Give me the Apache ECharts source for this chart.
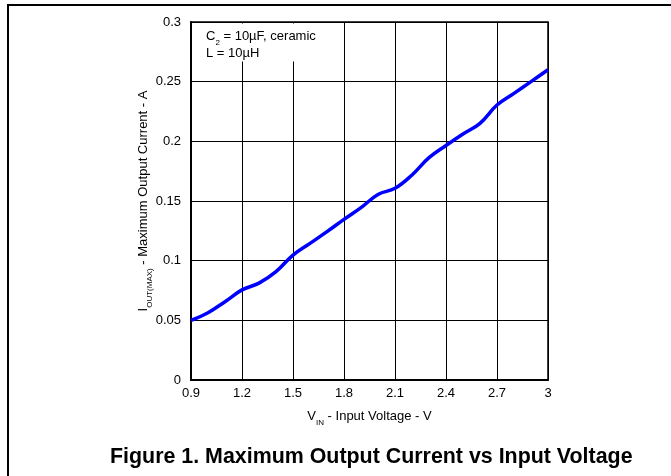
<!DOCTYPE html>
<html>
<head>
<meta charset="utf-8">
<script src="https://cdn.jsdelivr.net/npm/echarts@6/dist/echarts.min.js"></script>
<style>
html,body{margin:0;padding:0;background:#fff;}
#chart{width:671px;height:476px;}
</style>
</head>
<body>
<div id="chart"></div>
<script>
const vin = [0.9,1.0,1.1,1.2,1.3,1.4,1.5,1.6,1.7,1.8,1.9,2.0,2.1,2.2,2.3,2.4,2.5,2.6,2.7,2.8,2.9,3.0];
const ioutMax = [0.050,0.0564,0.0656,0.0755,0.0812,0.0908,0.1047,0.1145,0.1243,0.1346,0.1444,0.1555,0.1606,0.1718,0.1863,0.1965,0.2061,0.2151,0.2304,0.2402,0.2500,0.2600];
const xTicks = [0.9,1.2,1.5,1.8,2.1,2.4,2.7,3];
const yTicks = [0,0.05,0.1,0.15,0.2,0.25,0.3];

const FONT = 'Liberation Sans, Arial, sans-serif';
const chart = echarts.init(document.getElementById('chart'));
const G = {left:191, top:22, width:357, height:358};

chart.setOption({
  animation:false,
  backgroundColor:'#fff',
  textStyle:{fontFamily:FONT},
  title:{
    text:'Figure 1. Maximum Output Current vs Input Voltage',
    left:105, top:442,
    textStyle:{fontFamily:FONT,fontWeight:'bold',fontSize:21.4,color:'#000'}
  },
  grid:{left:G.left, top:G.top, width:G.width, height:G.height, show:true, borderColor:'#000', borderWidth:1.5, backgroundColor:'transparent'},
  xAxis:{
    type:'value', min:xTicks[0], max:xTicks[xTicks.length-1], interval:0.3,
    axisLine:{lineStyle:{color:'#000',width:2}},
    axisTick:{show:false},
    axisLabel:{color:'#000',fontSize:13,fontFamily:FONT,margin:7,
      formatter:v=>{const t=xTicks.find(a=>Math.abs(a-v)<1e-6);return t===undefined?'':String(t);}},
    splitLine:{show:true,lineStyle:{color:'#000',width:1}},
    name:'{n|V}{s|IN}{n| - Input Voltage - V}',
    nameLocation:'middle', nameGap:28, nameMoveOverlap:false,
    nameTextStyle:{fontFamily:FONT,color:'#000',rich:{
      n:{fontSize:13,fontFamily:FONT,color:'#000',height:16,verticalAlign:'top'},
      s:{fontSize:8,fontFamily:FONT,color:'#000',height:16,verticalAlign:'bottom',padding:[7,0,0,0]}
    }}
  },
  yAxis:{
    type:'value', min:yTicks[0], max:yTicks[yTicks.length-1], interval:0.05,
    axisLine:{lineStyle:{color:'#000',width:2}},
    axisTick:{show:false},
    axisLabel:{color:'#000',fontSize:13,fontFamily:FONT,margin:10,
      formatter:v=>{const t=yTicks.find(a=>Math.abs(a-v)<1e-6);return t===undefined?'':String(t);}},
    splitLine:{show:true,lineStyle:{color:'#000',width:1}},
    name:'{n|I}{s|OUT(MAX)}{n| - Maximum Output Current - A}',
    nameLocation:'middle', nameRotate:90, nameGap:33, nameMoveOverlap:false,
    nameTextStyle:{fontFamily:FONT,color:'#000',rich:{
      n:{fontSize:13,fontFamily:FONT,color:'#000',height:16,verticalAlign:'top'},
      s:{fontSize:8,fontFamily:FONT,color:'#000',height:16,verticalAlign:'bottom',padding:[7,0,0,0]}
    }}
  },
  series:[{
    type:'line', data:vin.map((v,i)=>[v,ioutMax[i]]), smooth:0.4, symbol:'none',
    lineStyle:{color:'#0000ff',width:3.5}, z:5
  }],
  graphic:[
    {type:'rect', z:50, shape:{x:G.left+1.5, y:G.top+1.5, width:148, height:38}, style:{fill:'#fff'}},
    {type:'text', z:51, left:206, top:30, style:{
      text:'{n|C}{s|2}{n| = 10µF, ceramic}',
      font:'13px '+FONT, fill:'#000',
      rich:{
        n:{fontSize:13,fontFamily:FONT,fill:'#000',height:15,verticalAlign:'top'},
        s:{fontSize:8,fontFamily:FONT,fill:'#000',height:15,verticalAlign:'bottom',padding:[6,0,0,0]}
      }
    }},
    {type:'text', z:51, left:206, top:47, style:{text:'L = 10µH', font:'13px '+FONT, fill:'#000'}},
    {type:'polyline', z:60, shape:{points:[[8,476],[8,5],[671,5]]}, style:{stroke:'#000',lineWidth:2,fill:null}}
  ]
});
</script>
</body>
</html>
